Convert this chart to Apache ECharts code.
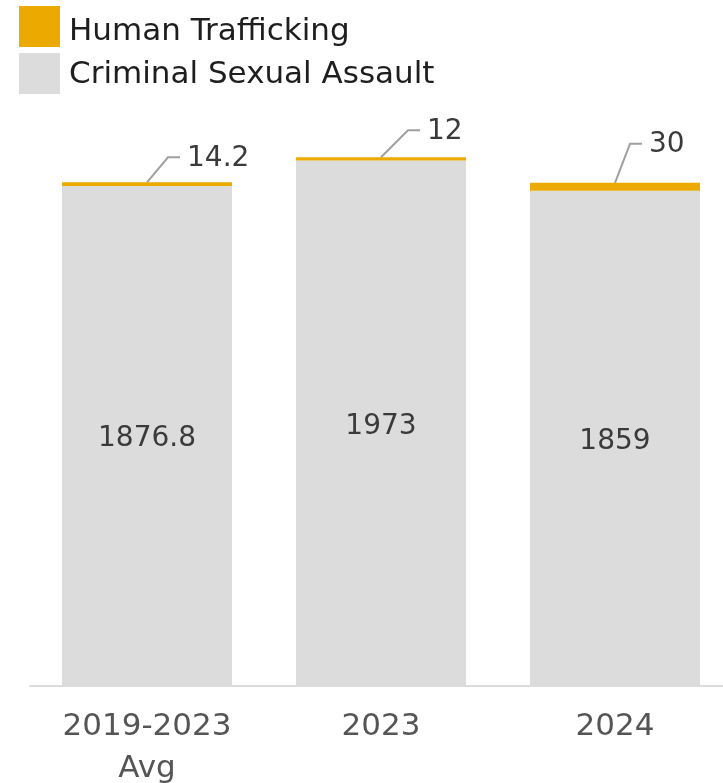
<!DOCTYPE html>
<html>
<head>
    <meta charset="utf-8">
    <title>Criminal Sexual Assault and Human Trafficking</title>
    <script src="https://cdn.jsdelivr.net/npm/echarts@6/dist/echarts.min.js"></script>
    <style>
        html, body { margin: 0; padding: 0; background: #fff; }
        #chart1 { width: 723px; height: 783px; }
    </style>
</head>
<body>
<div id="chart1"></div>
<script>
    // data
    var categories = ['2019-2023\nAvg', '2023', '2024'];
    var assault = [1876.8, 1973, 1859];
    var trafficking = [14.2, 12, 30];

    // leader line bend for each small label: [dx, dy] from bar top
    var leaderBend = [[21, -25], [27, -27], [15, -39]];

    var totals = assault.map(function (v, i) { return v + trafficking[i]; });
    var leaderData = totals.map(function (t, i) { return [i, t, trafficking[i]]; });

    var font = '"DejaVu Sans", sans-serif';

    var myChart1 = echarts.init(document.getElementById('chart1'));
    myChart1.setOption({
        animation: false,
        textStyle: { fontFamily: font },
        legend: {
            orient: 'vertical',
            left: 19,
            top: 6,
            padding: 0,
            icon: 'rect',
            itemWidth: 41,
            itemHeight: 41,
            itemGap: 6,
            selectedMode: false,
            data: ['Human Trafficking', 'Criminal Sexual Assault'],
            formatter: function (name) {
                // first row sits a little lower than its swatch
                return name === 'Human Trafficking' ? '{low|' + name + '}' : '{std|' + name + '}';
            },
            textStyle: {
                fontSize: 31,
                color: '#1e1e1e',
                rich: {
                    low: { fontSize: 31, color: '#1e1e1e', padding: [10, 0, 0, 4] },
                    std: { fontSize: 31, color: '#1e1e1e', padding: [2, 0, 0, 4] }
                }
            }
        },
        grid: { left: 30, right: -9, top: 100, bottom: 97, outerBoundsMode: 'none' },
        xAxis: {
            type: 'category',
            data: categories,
            axisLine: { lineStyle: { color: '#dcdcdc', width: 2 } },
            axisTick: { show: false },
            axisLabel: { fontSize: 31, color: '#555', margin: 20, lineHeight: 42 }
        },
        yAxis: {
            type: 'value',
            min: 0,
            max: 2200,
            show: false,
            splitLine: { show: false }
        },
        series: [
            {
                name: 'Criminal Sexual Assault',
                type: 'bar',
                stack: 'total',
                data: assault,
                barWidth: 170,
                itemStyle: { color: '#dcdcdc' },
                label: {
                    show: true,
                    position: 'inside',
                    offset: [0, 3],
                    fontSize: 28,
                    color: '#3a3a3a'
                }
            },
            {
                name: 'Human Trafficking',
                type: 'bar',
                stack: 'total',
                data: trafficking,
                barWidth: 170,
                itemStyle: { color: '#ecaa00' }
            },
            {
                type: 'custom',
                silent: true,
                data: leaderData,
                encode: { x: 0, y: 1 },
                renderItem: function (params, api) {
                    var p = api.coord([api.value(0), api.value(1)]);
                    var b = leaderBend[params.dataIndex];
                    var bx = p[0] + b[0], by = p[1] + b[1];
                    return {
                        type: 'group',
                        children: [
                            {
                                type: 'polyline',
                                shape: { points: [[p[0], p[1]], [bx, by], [bx + 12, by]] },
                                style: { stroke: '#a0a0a0', lineWidth: 2, fill: null }
                            },
                            {
                                type: 'text',
                                x: bx + 19,
                                y: by + 1,
                                style: {
                                    text: String(api.value(2)),
                                    fontSize: 28,
                                    fill: '#3a3a3a',
                                    fontFamily: font,
                                    verticalAlign: 'middle',
                                    align: 'left'
                                }
                            }
                        ]
                    };
                }
            }
        ]
    });
</script>
</body>
</html>
